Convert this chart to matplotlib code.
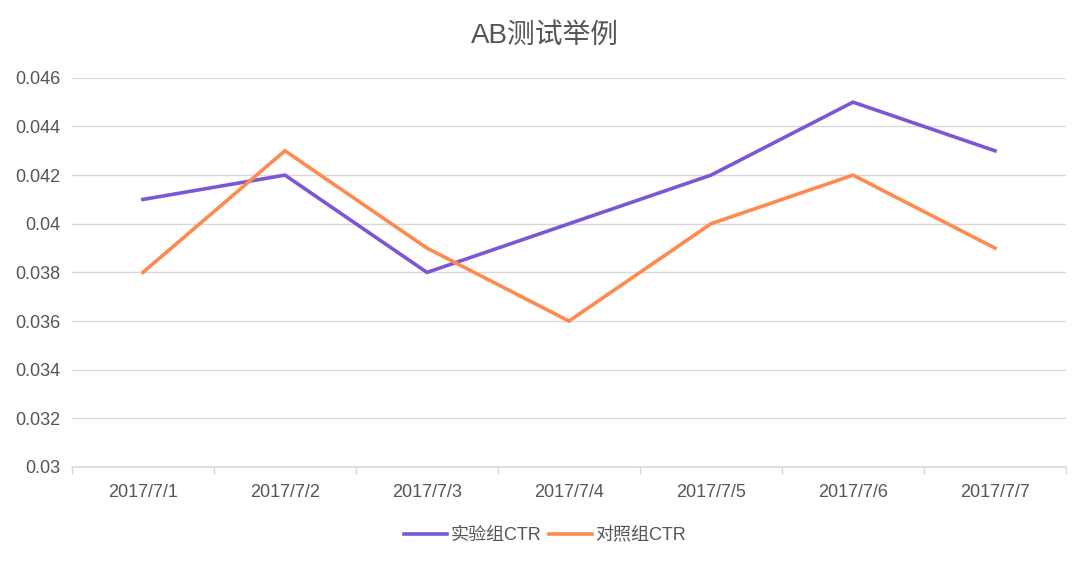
import numpy as np
import matplotlib.pyplot as plt

plt.rcParams['font.family'] = ['Liberation Sans', 'Noto Sans CJK SC', 'DejaVu Sans']

dates = ["2017/7/1", "2017/7/2", "2017/7/3", "2017/7/4",
         "2017/7/5", "2017/7/6", "2017/7/7"]
test_ctr = [0.041, 0.042, 0.038, 0.040, 0.042, 0.045, 0.043]
control_ctr = [0.038, 0.043, 0.039, 0.036, 0.040, 0.042, 0.039]
y_ticks = [0.03, 0.032, 0.034, 0.036, 0.038, 0.04, 0.042, 0.044, 0.046]
y_labels = ["0.03", "0.032", "0.034", "0.036", "0.038", "0.04",
            "0.042", "0.044", "0.046"]

text_color = "#555555"
grid_color = "#d9d9d9"

fig = plt.figure(figsize=(10.9, 5.64), dpi=100)
ax = fig.add_axes([0.066, 0.172, 0.912, 0.69])

x = np.arange(len(dates))

ax.plot(x, test_ctr, color="#7b57d6", linewidth=2.6, label="实验组CTR",
        solid_joinstyle="miter", zorder=3)
ax.plot(x, control_ctr, color="#ff8a4f", linewidth=2.6, label="对照组CTR",
        solid_joinstyle="miter", zorder=3)

ax.set_xlim(-0.5, len(dates) - 0.5)
ax.set_ylim(0.03, 0.046)

ax.set_yticks(y_ticks)
ax.set_yticklabels(y_labels)
ax.yaxis.grid(True, color=grid_color, linewidth=1)
ax.set_axisbelow(True)

ax.set_xticks(x)
ax.set_xticklabels(dates)
ax.set_xticks(np.arange(-0.5, len(dates)), minor=True)
ax.tick_params(axis="x", which="major", length=0, pad=12.5,
               labelsize=13, labelcolor=text_color)
ax.tick_params(axis="x", which="minor", length=5, width=1,
               color=grid_color, direction="out")
ax.tick_params(axis="y", length=0, pad=8, labelsize=13,
               labelcolor=text_color)

for side in ["top", "right", "left"]:
    ax.spines[side].set_visible(False)
ax.spines["bottom"].set_color(grid_color)
ax.spines["bottom"].set_linewidth(1.2)

fig.suptitle("AB测试举例", fontsize=20, color=text_color, y=0.96)

fig.legend(loc="center", bbox_to_anchor=(0.5, 0.05), ncol=2,
           frameon=False, fontsize=13, handlelength=2.4,
           columnspacing=0.4, handletextpad=0.2,
           labelcolor=text_color)

plt.savefig("out.png", dpi=100)
